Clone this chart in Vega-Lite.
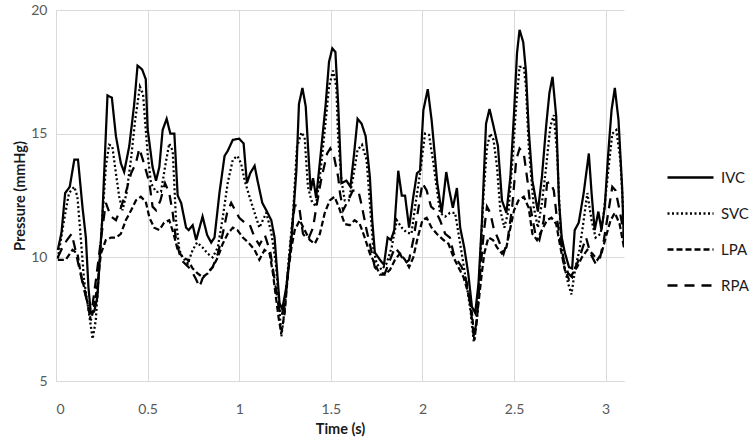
{
  "$schema": "https://vega.github.io/schema/vega-lite/v6.json",
  "autosize": "none",
  "width": 568,
  "height": 371,
  "padding": {"left": 56, "top": 10, "right": 126, "bottom": 60},
  "background": "white",
  "config": {"font": "Lato", "view": {"stroke": null}},
  "data": {"values": [
{"s":"IVC","t":0.01,"p":10.3},{"s":"IVC","t":0.03,"p":11.0},{"s":"IVC","t":0.05,"p":12.6},{"s":"IVC","t":0.075,"p":12.85},{"s":"IVC","t":0.10,"p":13.95},{"s":"IVC","t":0.12,"p":13.95},{"s":"IVC","t":0.145,"p":12.0},{"s":"IVC","t":0.163,"p":10.8},{"s":"IVC","t":0.177,"p":8.8},{"s":"IVC","t":0.19,"p":7.75},{"s":"IVC","t":0.208,"p":7.8},{"s":"IVC","t":0.226,"p":8.4},{"s":"IVC","t":0.252,"p":11.5},{"s":"IVC","t":0.281,"p":16.55},{"s":"IVC","t":0.305,"p":16.45},{"s":"IVC","t":0.327,"p":14.9},{"s":"IVC","t":0.354,"p":13.8},{"s":"IVC","t":0.372,"p":13.45},{"s":"IVC","t":0.40,"p":14.5},{"s":"IVC","t":0.427,"p":16.2},{"s":"IVC","t":0.445,"p":17.75},{"s":"IVC","t":0.47,"p":17.6},{"s":"IVC","t":0.49,"p":17.2},{"s":"IVC","t":0.50,"p":15.2},{"s":"IVC","t":0.527,"p":13.65},{"s":"IVC","t":0.546,"p":13.1},{"s":"IVC","t":0.564,"p":13.65},{"s":"IVC","t":0.582,"p":15.15},{"s":"IVC","t":0.604,"p":15.6},{"s":"IVC","t":0.624,"p":15.0},{"s":"IVC","t":0.646,"p":15.0},{"s":"IVC","t":0.664,"p":12.5},{"s":"IVC","t":0.683,"p":12.2},{"s":"IVC","t":0.71,"p":11.2},{"s":"IVC","t":0.724,"p":11.1},{"s":"IVC","t":0.746,"p":11.3},{"s":"IVC","t":0.765,"p":10.7},{"s":"IVC","t":0.80,"p":11.65},{"s":"IVC","t":0.825,"p":10.9},{"s":"IVC","t":0.847,"p":10.6},{"s":"IVC","t":0.865,"p":10.8},{"s":"IVC","t":0.892,"p":12.6},{"s":"IVC","t":0.92,"p":14.1},{"s":"IVC","t":0.937,"p":14.3},{"s":"IVC","t":0.965,"p":14.75},{"s":"IVC","t":1.0,"p":14.8},{"s":"IVC","t":1.024,"p":14.6},{"s":"IVC","t":1.042,"p":13.0},{"s":"IVC","t":1.06,"p":13.4},{"s":"IVC","t":1.084,"p":13.7},{"s":"IVC","t":1.10,"p":13.1},{"s":"IVC","t":1.126,"p":12.2},{"s":"IVC","t":1.148,"p":11.9},{"s":"IVC","t":1.175,"p":11.5},{"s":"IVC","t":1.193,"p":10.8},{"s":"IVC","t":1.206,"p":9.5},{"s":"IVC","t":1.22,"p":8.15},{"s":"IVC","t":1.235,"p":7.9},{"s":"IVC","t":1.257,"p":8.8},{"s":"IVC","t":1.285,"p":10.7},{"s":"IVC","t":1.312,"p":13.5},{"s":"IVC","t":1.326,"p":16.2},{"s":"IVC","t":1.345,"p":16.85},{"s":"IVC","t":1.363,"p":16.1},{"s":"IVC","t":1.38,"p":13.9},{"s":"IVC","t":1.39,"p":12.7},{"s":"IVC","t":1.403,"p":13.2},{"s":"IVC","t":1.42,"p":12.4},{"s":"IVC","t":1.445,"p":14.2},{"s":"IVC","t":1.472,"p":16.2},{"s":"IVC","t":1.49,"p":17.9},{"s":"IVC","t":1.508,"p":18.45},{"s":"IVC","t":1.525,"p":18.3},{"s":"IVC","t":1.54,"p":16.2},{"s":"IVC","t":1.558,"p":13.0},{"s":"IVC","t":1.585,"p":13.1},{"s":"IVC","t":1.607,"p":12.85},{"s":"IVC","t":1.627,"p":14.2},{"s":"IVC","t":1.646,"p":15.6},{"s":"IVC","t":1.668,"p":15.4},{"s":"IVC","t":1.69,"p":14.9},{"s":"IVC","t":1.713,"p":13.25},{"s":"IVC","t":1.726,"p":11.5},{"s":"IVC","t":1.74,"p":10.2},{"s":"IVC","t":1.768,"p":9.9},{"s":"IVC","t":1.79,"p":9.7},{"s":"IVC","t":1.81,"p":10.8},{"s":"IVC","t":1.828,"p":10.7},{"s":"IVC","t":1.846,"p":11.1},{"s":"IVC","t":1.868,"p":13.5},{"s":"IVC","t":1.887,"p":12.5},{"s":"IVC","t":1.905,"p":12.5},{"s":"IVC","t":1.927,"p":11.2},{"s":"IVC","t":1.95,"p":12.45},{"s":"IVC","t":1.97,"p":13.4},{"s":"IVC","t":1.987,"p":13.5},{"s":"IVC","t":2.005,"p":15.95},{"s":"IVC","t":2.029,"p":16.8},{"s":"IVC","t":2.05,"p":15.55},{"s":"IVC","t":2.063,"p":14.5},{"s":"IVC","t":2.081,"p":13.0},{"s":"IVC","t":2.105,"p":11.8},{"s":"IVC","t":2.13,"p":13.45},{"s":"IVC","t":2.147,"p":12.7},{"s":"IVC","t":2.166,"p":12.0},{"s":"IVC","t":2.188,"p":12.8},{"s":"IVC","t":2.206,"p":11.2},{"s":"IVC","t":2.228,"p":10.4},{"s":"IVC","t":2.25,"p":9.35},{"s":"IVC","t":2.27,"p":8.0},{"s":"IVC","t":2.288,"p":7.75},{"s":"IVC","t":2.306,"p":8.95},{"s":"IVC","t":2.325,"p":11.5},{"s":"IVC","t":2.347,"p":15.4},{"s":"IVC","t":2.366,"p":16.0},{"s":"IVC","t":2.388,"p":15.3},{"s":"IVC","t":2.412,"p":14.5},{"s":"IVC","t":2.434,"p":12.3},{"s":"IVC","t":2.458,"p":11.8},{"s":"IVC","t":2.48,"p":13.25},{"s":"IVC","t":2.50,"p":15.85},{"s":"IVC","t":2.516,"p":18.25},{"s":"IVC","t":2.53,"p":19.2},{"s":"IVC","t":2.55,"p":18.7},{"s":"IVC","t":2.565,"p":17.5},{"s":"IVC","t":2.58,"p":15.15},{"s":"IVC","t":2.60,"p":13.1},{"s":"IVC","t":2.63,"p":11.85},{"s":"IVC","t":2.652,"p":13.25},{"s":"IVC","t":2.675,"p":15.3},{"s":"IVC","t":2.693,"p":16.65},{"s":"IVC","t":2.71,"p":17.3},{"s":"IVC","t":2.73,"p":15.7},{"s":"IVC","t":2.745,"p":12.3},{"s":"IVC","t":2.76,"p":10.8},{"s":"IVC","t":2.777,"p":10.2},{"s":"IVC","t":2.80,"p":9.6},{"s":"IVC","t":2.817,"p":9.55},{"s":"IVC","t":2.831,"p":11.1},{"s":"IVC","t":2.853,"p":11.4},{"s":"IVC","t":2.88,"p":12.6},{"s":"IVC","t":2.908,"p":14.2},{"s":"IVC","t":2.923,"p":12.6},{"s":"IVC","t":2.94,"p":11.1},{"s":"IVC","t":2.96,"p":11.85},{"s":"IVC","t":2.977,"p":11.1},{"s":"IVC","t":2.995,"p":12.05},{"s":"IVC","t":3.014,"p":14.2},{"s":"IVC","t":3.032,"p":15.95},{"s":"IVC","t":3.05,"p":16.85},{"s":"IVC","t":3.07,"p":15.55},{"s":"IVC","t":3.09,"p":12.8},{"s":"IVC","t":3.10,"p":10.4},
{"s":"SVC","t":0.01,"p":9.95},{"s":"SVC","t":0.044,"p":11.5},{"s":"SVC","t":0.071,"p":12.6},{"s":"SVC","t":0.10,"p":12.85},{"s":"SVC","t":0.117,"p":12.45},{"s":"SVC","t":0.135,"p":10.8},{"s":"SVC","t":0.153,"p":9.1},{"s":"SVC","t":0.177,"p":7.9},{"s":"SVC","t":0.20,"p":6.7},{"s":"SVC","t":0.217,"p":7.45},{"s":"SVC","t":0.245,"p":10.7},{"s":"SVC","t":0.272,"p":13.65},{"s":"SVC","t":0.29,"p":14.55},{"s":"SVC","t":0.307,"p":14.5},{"s":"SVC","t":0.327,"p":13.4},{"s":"SVC","t":0.345,"p":12.45},{"s":"SVC","t":0.363,"p":11.9},{"s":"SVC","t":0.385,"p":12.6},{"s":"SVC","t":0.409,"p":13.95},{"s":"SVC","t":0.432,"p":15.55},{"s":"SVC","t":0.458,"p":16.9},{"s":"SVC","t":0.475,"p":16.6},{"s":"SVC","t":0.50,"p":14.2},{"s":"SVC","t":0.518,"p":13.0},{"s":"SVC","t":0.546,"p":12.65},{"s":"SVC","t":0.573,"p":12.65},{"s":"SVC","t":0.595,"p":13.65},{"s":"SVC","t":0.618,"p":14.6},{"s":"SVC","t":0.637,"p":14.3},{"s":"SVC","t":0.655,"p":11.5},{"s":"SVC","t":0.673,"p":10.3},{"s":"SVC","t":0.691,"p":10.0},{"s":"SVC","t":0.719,"p":9.75},{"s":"SVC","t":0.746,"p":10.3},{"s":"SVC","t":0.77,"p":10.6},{"s":"SVC","t":0.80,"p":10.4},{"s":"SVC","t":0.828,"p":10.15},{"s":"SVC","t":0.855,"p":10.0},{"s":"SVC","t":0.883,"p":10.4},{"s":"SVC","t":0.91,"p":11.6},{"s":"SVC","t":0.937,"p":13.0},{"s":"SVC","t":0.965,"p":13.95},{"s":"SVC","t":0.99,"p":14.1},{"s":"SVC","t":1.01,"p":13.8},{"s":"SVC","t":1.03,"p":13.1},{"s":"SVC","t":1.056,"p":12.45},{"s":"SVC","t":1.084,"p":11.8},{"s":"SVC","t":1.11,"p":11.2},{"s":"SVC","t":1.148,"p":11.8},{"s":"SVC","t":1.175,"p":11.0},{"s":"SVC","t":1.2,"p":9.75},{"s":"SVC","t":1.217,"p":8.15},{"s":"SVC","t":1.23,"p":6.8},{"s":"SVC","t":1.248,"p":7.9},{"s":"SVC","t":1.27,"p":9.9},{"s":"SVC","t":1.294,"p":11.8},{"s":"SVC","t":1.315,"p":14.45},{"s":"SVC","t":1.34,"p":15.05},{"s":"SVC","t":1.357,"p":14.85},{"s":"SVC","t":1.375,"p":12.85},{"s":"SVC","t":1.394,"p":12.3},{"s":"SVC","t":1.418,"p":12.05},{"s":"SVC","t":1.44,"p":13.25},{"s":"SVC","t":1.467,"p":15.15},{"s":"SVC","t":1.49,"p":16.9},{"s":"SVC","t":1.512,"p":17.55},{"s":"SVC","t":1.53,"p":16.9},{"s":"SVC","t":1.54,"p":14.85},{"s":"SVC","t":1.558,"p":13.1},{"s":"SVC","t":1.576,"p":12.3},{"s":"SVC","t":1.598,"p":12.3},{"s":"SVC","t":1.622,"p":13.25},{"s":"SVC","t":1.646,"p":14.35},{"s":"SVC","t":1.67,"p":14.55},{"s":"SVC","t":1.695,"p":13.95},{"s":"SVC","t":1.713,"p":12.2},{"s":"SVC","t":1.731,"p":10.4},{"s":"SVC","t":1.75,"p":9.75},{"s":"SVC","t":1.777,"p":9.5},{"s":"SVC","t":1.804,"p":9.75},{"s":"SVC","t":1.832,"p":10.4},{"s":"SVC","t":1.86,"p":11.5},{"s":"SVC","t":1.887,"p":11.2},{"s":"SVC","t":1.914,"p":11.0},{"s":"SVC","t":1.94,"p":10.95},{"s":"SVC","t":1.96,"p":12.05},{"s":"SVC","t":1.987,"p":13.4},{"s":"SVC","t":2.014,"p":15.0},{"s":"SVC","t":2.036,"p":14.95},{"s":"SVC","t":2.06,"p":13.8},{"s":"SVC","t":2.096,"p":11.8},{"s":"SVC","t":2.124,"p":11.65},{"s":"SVC","t":2.15,"p":11.8},{"s":"SVC","t":2.178,"p":11.8},{"s":"SVC","t":2.196,"p":11.0},{"s":"SVC","t":2.22,"p":9.9},{"s":"SVC","t":2.243,"p":8.8},{"s":"SVC","t":2.264,"p":7.75},{"s":"SVC","t":2.28,"p":6.6},{"s":"SVC","t":2.297,"p":7.45},{"s":"SVC","t":2.315,"p":9.9},{"s":"SVC","t":2.334,"p":12.6},{"s":"SVC","t":2.352,"p":14.45},{"s":"SVC","t":2.37,"p":15.0},{"s":"SVC","t":2.388,"p":14.75},{"s":"SVC","t":2.407,"p":13.65},{"s":"SVC","t":2.425,"p":11.9},{"s":"SVC","t":2.447,"p":11.2},{"s":"SVC","t":2.47,"p":11.9},{"s":"SVC","t":2.494,"p":14.2},{"s":"SVC","t":2.512,"p":16.2},{"s":"SVC","t":2.53,"p":17.7},{"s":"SVC","t":2.553,"p":17.7},{"s":"SVC","t":2.565,"p":16.9},{"s":"SVC","t":2.58,"p":14.5},{"s":"SVC","t":2.607,"p":12.05},{"s":"SVC","t":2.63,"p":11.2},{"s":"SVC","t":2.652,"p":12.2},{"s":"SVC","t":2.675,"p":13.65},{"s":"SVC","t":2.698,"p":15.3},{"s":"SVC","t":2.717,"p":15.75},{"s":"SVC","t":2.735,"p":14.2},{"s":"SVC","t":2.753,"p":11.2},{"s":"SVC","t":2.771,"p":9.75},{"s":"SVC","t":2.795,"p":8.95},{"s":"SVC","t":2.813,"p":8.5},{"s":"SVC","t":2.835,"p":9.6},{"s":"SVC","t":2.857,"p":10.3},{"s":"SVC","t":2.88,"p":11.5},{"s":"SVC","t":2.90,"p":12.6},{"s":"SVC","t":2.923,"p":11.5},{"s":"SVC","t":2.945,"p":10.8},{"s":"SVC","t":2.972,"p":10.95},{"s":"SVC","t":2.99,"p":11.8},{"s":"SVC","t":3.014,"p":13.5},{"s":"SVC","t":3.036,"p":15.0},{"s":"SVC","t":3.058,"p":15.15},{"s":"SVC","t":3.08,"p":13.95},{"s":"SVC","t":3.10,"p":11.3},
{"s":"LPA","t":0.01,"p":9.9},{"s":"LPA","t":0.053,"p":9.9},{"s":"LPA","t":0.09,"p":10.3},{"s":"LPA","t":0.117,"p":10.15},{"s":"LPA","t":0.135,"p":9.35},{"s":"LPA","t":0.153,"p":8.8},{"s":"LPA","t":0.172,"p":8.15},{"s":"LPA","t":0.19,"p":7.45},{"s":"LPA","t":0.205,"p":7.9},{"s":"LPA","t":0.225,"p":8.8},{"s":"LPA","t":0.245,"p":10.15},{"s":"LPA","t":0.272,"p":10.7},{"s":"LPA","t":0.30,"p":10.8},{"s":"LPA","t":0.327,"p":10.8},{"s":"LPA","t":0.354,"p":10.95},{"s":"LPA","t":0.381,"p":11.5},{"s":"LPA","t":0.41,"p":11.9},{"s":"LPA","t":0.436,"p":12.3},{"s":"LPA","t":0.463,"p":12.45},{"s":"LPA","t":0.49,"p":12.25},{"s":"LPA","t":0.51,"p":11.6},{"s":"LPA","t":0.536,"p":11.2},{"s":"LPA","t":0.564,"p":11.1},{"s":"LPA","t":0.59,"p":11.4},{"s":"LPA","t":0.618,"p":11.5},{"s":"LPA","t":0.642,"p":10.95},{"s":"LPA","t":0.664,"p":10.3},{"s":"LPA","t":0.691,"p":10.0},{"s":"LPA","t":0.719,"p":9.9},{"s":"LPA","t":0.746,"p":9.55},{"s":"LPA","t":0.773,"p":9.35},{"s":"LPA","t":0.80,"p":9.2},{"s":"LPA","t":0.828,"p":9.35},{"s":"LPA","t":0.855,"p":9.6},{"s":"LPA","t":0.883,"p":10.0},{"s":"LPA","t":0.91,"p":10.55},{"s":"LPA","t":0.937,"p":10.95},{"s":"LPA","t":0.965,"p":11.2},{"s":"LPA","t":0.99,"p":11.1},{"s":"LPA","t":1.02,"p":10.8},{"s":"LPA","t":1.05,"p":10.6},{"s":"LPA","t":1.084,"p":10.3},{"s":"LPA","t":1.11,"p":9.9},{"s":"LPA","t":1.138,"p":10.3},{"s":"LPA","t":1.166,"p":10.15},{"s":"LPA","t":1.184,"p":9.35},{"s":"LPA","t":1.20,"p":8.4},{"s":"LPA","t":1.217,"p":7.45},{"s":"LPA","t":1.23,"p":6.95},{"s":"LPA","t":1.248,"p":7.75},{"s":"LPA","t":1.266,"p":9.35},{"s":"LPA","t":1.285,"p":10.4},{"s":"LPA","t":1.303,"p":11.1},{"s":"LPA","t":1.33,"p":11.5},{"s":"LPA","t":1.357,"p":11.1},{"s":"LPA","t":1.385,"p":10.7},{"s":"LPA","t":1.412,"p":10.55},{"s":"LPA","t":1.44,"p":10.95},{"s":"LPA","t":1.467,"p":11.8},{"s":"LPA","t":1.494,"p":12.3},{"s":"LPA","t":1.52,"p":12.45},{"s":"LPA","t":1.545,"p":12.0},{"s":"LPA","t":1.576,"p":11.35},{"s":"LPA","t":1.603,"p":11.3},{"s":"LPA","t":1.63,"p":11.5},{"s":"LPA","t":1.658,"p":11.35},{"s":"LPA","t":1.685,"p":10.8},{"s":"LPA","t":1.713,"p":10.15},{"s":"LPA","t":1.74,"p":9.75},{"s":"LPA","t":1.768,"p":9.3},{"s":"LPA","t":1.795,"p":9.3},{"s":"LPA","t":1.823,"p":9.5},{"s":"LPA","t":1.85,"p":9.9},{"s":"LPA","t":1.877,"p":10.15},{"s":"LPA","t":1.905,"p":9.9},{"s":"LPA","t":1.927,"p":9.6},{"s":"LPA","t":1.95,"p":10.0},{"s":"LPA","t":1.974,"p":10.8},{"s":"LPA","t":2.0,"p":11.5},{"s":"LPA","t":2.023,"p":11.6},{"s":"LPA","t":2.05,"p":11.2},{"s":"LPA","t":2.078,"p":10.95},{"s":"LPA","t":2.115,"p":10.7},{"s":"LPA","t":2.142,"p":10.55},{"s":"LPA","t":2.17,"p":10.0},{"s":"LPA","t":2.196,"p":9.6},{"s":"LPA","t":2.224,"p":9.2},{"s":"LPA","t":2.25,"p":8.55},{"s":"LPA","t":2.27,"p":7.75},{"s":"LPA","t":2.284,"p":6.65},{"s":"LPA","t":2.30,"p":7.75},{"s":"LPA","t":2.32,"p":9.1},{"s":"LPA","t":2.337,"p":10.15},{"s":"LPA","t":2.36,"p":10.8},{"s":"LPA","t":2.385,"p":10.7},{"s":"LPA","t":2.407,"p":10.4},{"s":"LPA","t":2.434,"p":10.15},{"s":"LPA","t":2.458,"p":10.4},{"s":"LPA","t":2.48,"p":11.2},{"s":"LPA","t":2.50,"p":11.9},{"s":"LPA","t":2.524,"p":12.3},{"s":"LPA","t":2.553,"p":12.45},{"s":"LPA","t":2.58,"p":12.0},{"s":"LPA","t":2.60,"p":10.95},{"s":"LPA","t":2.625,"p":10.7},{"s":"LPA","t":2.652,"p":11.1},{"s":"LPA","t":2.68,"p":11.5},{"s":"LPA","t":2.704,"p":11.6},{"s":"LPA","t":2.73,"p":11.35},{"s":"LPA","t":2.753,"p":10.4},{"s":"LPA","t":2.777,"p":9.5},{"s":"LPA","t":2.80,"p":9.1},{"s":"LPA","t":2.82,"p":9.35},{"s":"LPA","t":2.844,"p":9.6},{"s":"LPA","t":2.87,"p":10.0},{"s":"LPA","t":2.90,"p":10.3},{"s":"LPA","t":2.927,"p":10.15},{"s":"LPA","t":2.955,"p":9.9},{"s":"LPA","t":2.977,"p":10.15},{"s":"LPA","t":3.0,"p":10.8},{"s":"LPA","t":3.027,"p":11.5},{"s":"LPA","t":3.05,"p":11.8},{"s":"LPA","t":3.076,"p":11.35},{"s":"LPA","t":3.10,"p":10.4},
{"s":"RPA","t":0.01,"p":10.0},{"s":"RPA","t":0.035,"p":10.4},{"s":"RPA","t":0.06,"p":10.7},{"s":"RPA","t":0.085,"p":10.95},{"s":"RPA","t":0.10,"p":10.5},{"s":"RPA","t":0.12,"p":9.8},{"s":"RPA","t":0.15,"p":8.8},{"s":"RPA","t":0.17,"p":8.2},{"s":"RPA","t":0.185,"p":7.7},{"s":"RPA","t":0.20,"p":8.1},{"s":"RPA","t":0.22,"p":9.2},{"s":"RPA","t":0.25,"p":11.0},{"s":"RPA","t":0.272,"p":12.2},{"s":"RPA","t":0.30,"p":11.65},{"s":"RPA","t":0.327,"p":11.5},{"s":"RPA","t":0.354,"p":12.0},{"s":"RPA","t":0.38,"p":12.6},{"s":"RPA","t":0.41,"p":13.4},{"s":"RPA","t":0.436,"p":13.8},{"s":"RPA","t":0.455,"p":14.4},{"s":"RPA","t":0.48,"p":13.8},{"s":"RPA","t":0.51,"p":13.0},{"s":"RPA","t":0.527,"p":12.05},{"s":"RPA","t":0.546,"p":11.9},{"s":"RPA","t":0.57,"p":12.3},{"s":"RPA","t":0.595,"p":13.0},{"s":"RPA","t":0.618,"p":12.6},{"s":"RPA","t":0.637,"p":11.8},{"s":"RPA","t":0.655,"p":10.7},{"s":"RPA","t":0.683,"p":9.9},{"s":"RPA","t":0.71,"p":9.7},{"s":"RPA","t":0.737,"p":9.5},{"s":"RPA","t":0.765,"p":9.1},{"s":"RPA","t":0.783,"p":8.8},{"s":"RPA","t":0.80,"p":9.15},{"s":"RPA","t":0.828,"p":9.4},{"s":"RPA","t":0.855,"p":9.6},{"s":"RPA","t":0.883,"p":10.15},{"s":"RPA","t":0.91,"p":10.95},{"s":"RPA","t":0.934,"p":11.8},{"s":"RPA","t":0.956,"p":12.2},{"s":"RPA","t":0.978,"p":11.9},{"s":"RPA","t":1.0,"p":11.6},{"s":"RPA","t":1.03,"p":11.4},{"s":"RPA","t":1.056,"p":11.35},{"s":"RPA","t":1.084,"p":10.8},{"s":"RPA","t":1.11,"p":10.5},{"s":"RPA","t":1.14,"p":10.9},{"s":"RPA","t":1.17,"p":10.2},{"s":"RPA","t":1.195,"p":9.0},{"s":"RPA","t":1.215,"p":8.0},{"s":"RPA","t":1.23,"p":7.6},{"s":"RPA","t":1.25,"p":8.2},{"s":"RPA","t":1.27,"p":9.6},{"s":"RPA","t":1.285,"p":11.0},{"s":"RPA","t":1.303,"p":12.1},{"s":"RPA","t":1.326,"p":12.1},{"s":"RPA","t":1.348,"p":10.95},{"s":"RPA","t":1.375,"p":10.7},{"s":"RPA","t":1.403,"p":11.2},{"s":"RPA","t":1.42,"p":12.0},{"s":"RPA","t":1.45,"p":13.25},{"s":"RPA","t":1.48,"p":14.2},{"s":"RPA","t":1.497,"p":14.4},{"s":"RPA","t":1.518,"p":14.05},{"s":"RPA","t":1.54,"p":13.25},{"s":"RPA","t":1.55,"p":12.6},{"s":"RPA","t":1.567,"p":11.9},{"s":"RPA","t":1.595,"p":12.3},{"s":"RPA","t":1.62,"p":12.7},{"s":"RPA","t":1.65,"p":12.7},{"s":"RPA","t":1.67,"p":12.05},{"s":"RPA","t":1.695,"p":11.1},{"s":"RPA","t":1.72,"p":10.3},{"s":"RPA","t":1.74,"p":9.6},{"s":"RPA","t":1.768,"p":9.35},{"s":"RPA","t":1.795,"p":9.35},{"s":"RPA","t":1.823,"p":9.9},{"s":"RPA","t":1.85,"p":10.4},{"s":"RPA","t":1.877,"p":10.15},{"s":"RPA","t":1.905,"p":9.75},{"s":"RPA","t":1.927,"p":9.9},{"s":"RPA","t":1.95,"p":10.7},{"s":"RPA","t":1.974,"p":11.8},{"s":"RPA","t":2.0,"p":13.0},{"s":"RPA","t":2.023,"p":12.7},{"s":"RPA","t":2.047,"p":12.05},{"s":"RPA","t":2.07,"p":11.9},{"s":"RPA","t":2.096,"p":11.5},{"s":"RPA","t":2.124,"p":10.95},{"s":"RPA","t":2.15,"p":10.8},{"s":"RPA","t":2.17,"p":10.15},{"s":"RPA","t":2.188,"p":9.9},{"s":"RPA","t":2.215,"p":9.6},{"s":"RPA","t":2.243,"p":8.95},{"s":"RPA","t":2.26,"p":8.15},{"s":"RPA","t":2.28,"p":6.8},{"s":"RPA","t":2.297,"p":7.45},{"s":"RPA","t":2.315,"p":9.35},{"s":"RPA","t":2.334,"p":10.95},{"s":"RPA","t":2.352,"p":12.05},{"s":"RPA","t":2.37,"p":11.8},{"s":"RPA","t":2.388,"p":11.2},{"s":"RPA","t":2.415,"p":10.7},{"s":"RPA","t":2.443,"p":10.15},{"s":"RPA","t":2.465,"p":10.7},{"s":"RPA","t":2.49,"p":12.05},{"s":"RPA","t":2.512,"p":13.95},{"s":"RPA","t":2.53,"p":14.4},{"s":"RPA","t":2.553,"p":14.2},{"s":"RPA","t":2.575,"p":13.0},{"s":"RPA","t":2.59,"p":12.0},{"s":"RPA","t":2.616,"p":10.95},{"s":"RPA","t":2.638,"p":10.7},{"s":"RPA","t":2.662,"p":11.5},{"s":"RPA","t":2.68,"p":13.0},{"s":"RPA","t":2.698,"p":13.05},{"s":"RPA","t":2.717,"p":12.7},{"s":"RPA","t":2.735,"p":11.5},{"s":"RPA","t":2.753,"p":10.7},{"s":"RPA","t":2.771,"p":9.9},{"s":"RPA","t":2.795,"p":9.35},{"s":"RPA","t":2.817,"p":9.2},{"s":"RPA","t":2.835,"p":9.6},{"s":"RPA","t":2.853,"p":9.9},{"s":"RPA","t":2.875,"p":10.4},{"s":"RPA","t":2.893,"p":10.8},{"s":"RPA","t":2.917,"p":10.15},{"s":"RPA","t":2.945,"p":9.75},{"s":"RPA","t":2.967,"p":9.9},{"s":"RPA","t":2.99,"p":10.7},{"s":"RPA","t":3.014,"p":11.8},{"s":"RPA","t":3.036,"p":12.85},{"s":"RPA","t":3.054,"p":12.7},{"s":"RPA","t":3.076,"p":11.9},{"s":"RPA","t":3.10,"p":10.95}
  ]},
  "mark": {"type": "line", "color": "black", "strokeWidth": 2.25, "clip": true},
  "encoding": {
    "x": {
      "field": "t", "type": "quantitative",
      "scale": {"domain": [0, 3.1], "nice": false, "zero": false},
      "axis": {
        "title": "Time (s)", "values": [0, 0.5, 1, 1.5, 2, 2.5, 3], "format": "~g",
        "grid": true, "gridColor": "#d9d9d9", "gridWidth": 1,
        "domainColor": "#d9d9d9", "domainWidth": 1, "ticks": false,
        "labelFont": "Lato", "labelFontSize": 14, "labelColor": "#595959", "labelPadding": 21,
        "titleFont": "Lato", "titleFontSize": 14.5, "titleFontWeight": "bold", "titleColor": "#1a1a1a", "titlePadding": 6
      }
    },
    "y": {
      "field": "p", "type": "quantitative",
      "scale": {"domain": [5, 20], "nice": false, "zero": false},
      "axis": {
        "title": "Pressure (mmHg)", "values": [5, 10, 15, 20],
        "grid": true, "gridColor": "#d9d9d9", "gridWidth": 1,
        "domainColor": "#d9d9d9", "domainWidth": 1, "ticks": false,
        "labelFont": "Lato", "labelFontSize": 14, "labelColor": "#595959", "labelPadding": 9,
        "titleFont": "Lato", "titleFontSize": 14.5, "titleFontWeight": "bold", "titleColor": "#1a1a1a", "titlePadding": 3
      }
    },
    "strokeDash": {
      "field": "s", "type": "nominal",
      "scale": {"domain": ["IVC", "SVC", "LPA", "RPA"], "range": [[1, 0], [2, 2.5], [6, 3], [10, 7]]},
      "legend": {
        "title": null, "orient": "none", "legendX": 610, "legendY": 143,
        "symbolType": "stroke", "symbolSize": 2116, "symbolStrokeWidth": 2.3, "symbolStrokeColor": "black",
        "labelFont": "Lato", "labelFontSize": 15, "labelColor": "#1a1a1a", "labelOffset": 6, "rowPadding": 3
      }
    }
  }
}
